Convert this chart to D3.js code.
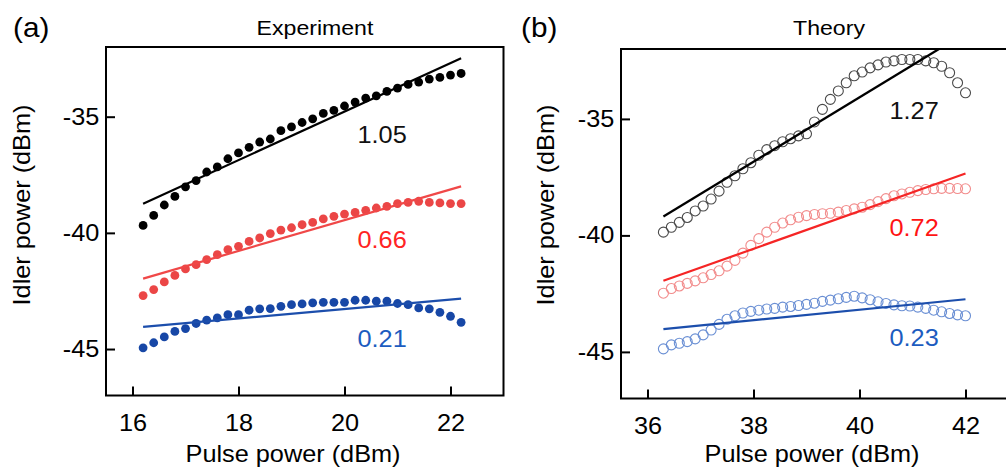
<!DOCTYPE html>
<html>
<head>
<meta charset="utf-8">
<script src="https://cdn.jsdelivr.net/npm/d3@7"></script>
<style>
  body { margin: 0; background: #fff; }
  text { font-family: "Liberation Sans", Arial, sans-serif; }
</style>
</head>
<body>
<svg id="chart" width="1006" height="467"></svg>
<script>
// ---- data ----
const expX = [16.2, 16.4, 16.6, 16.8, 17.0, 17.2, 17.4, 17.6, 17.8, 18.0, 18.2, 18.4, 18.6, 18.8, 19.0, 19.2,
              19.4, 19.6, 19.8, 20.0, 20.2, 20.4, 20.6, 20.8, 21.0, 21.2, 21.4, 21.6, 21.8, 22.0, 22.2];
const expBlack = [-39.68, -39.25, -38.80, -38.43, -38.02, -37.75, -37.38, -37.16, -36.81, -36.56, -36.32, -36.09,
                  -35.96, -35.60, -35.44, -35.25, -35.09, -34.86, -34.73, -34.54, -34.37, -34.20, -34.10, -33.91,
                  -33.77, -33.61, -33.51, -33.38, -33.31, -33.21, -33.14];
const expRed = [-42.70, -42.44, -42.11, -41.83, -41.55, -41.37, -41.15, -40.94, -40.72, -40.58, -40.37, -40.22,
                -40.03, -39.88, -39.78, -39.65, -39.55, -39.40, -39.29, -39.19, -39.12, -39.03, -38.93, -38.86,
                -38.74, -38.69, -38.64, -38.69, -38.71, -38.74, -38.74];
const expBlue = [-44.95, -44.73, -44.48, -44.24, -44.12, -43.90, -43.76, -43.66, -43.52, -43.52, -43.33, -43.27,
                 -43.26, -43.16, -43.09, -43.06, -43.01, -42.99, -42.99, -42.99, -42.90, -42.90, -42.94, -42.94,
                 -43.04, -43.09, -43.23, -43.27, -43.42, -43.59, -43.85];

const thX = [36.3, 36.45, 36.6, 36.75, 36.9, 37.05, 37.2, 37.35, 37.5, 37.65, 37.8, 37.95, 38.1, 38.25, 38.4,
             38.55, 38.7, 38.85, 39.0, 39.15, 39.3, 39.45, 39.6, 39.75, 39.9, 40.05, 40.2, 40.35, 40.5, 40.65,
             40.8, 40.95, 41.1, 41.25, 41.4, 41.55, 41.7, 41.85, 42.0];
const thBlack = [-39.86, -39.65, -39.44, -39.23, -38.95, -38.74, -38.44, -38.10, -37.72, -37.44, -37.14, -36.88,
                 -36.56, -36.32, -36.15, -35.98, -35.85, -35.73, -35.64, -35.13, -34.59, -34.16, -33.80, -33.45,
                 -33.15, -32.99, -32.81, -32.68, -32.56, -32.51, -32.45, -32.45, -32.45, -32.51, -32.59, -32.74,
                 -33.02, -33.45, -33.88];
const thRed = [-42.48, -42.28, -42.17, -42.06, -41.95, -41.82, -41.68, -41.52, -41.32, -41.07, -40.76, -40.43,
               -40.14, -39.86, -39.65, -39.47, -39.33, -39.22, -39.15, -39.10, -39.07, -39.05, -39.00, -38.93,
               -38.86, -38.79, -38.68, -38.55, -38.42, -38.30, -38.22, -38.15, -38.08, -38.03, -38.00, -37.98,
               -37.98, -37.99, -38.00];
const thBlue = [-44.87, -44.70, -44.63, -44.56, -44.44, -44.27, -44.06, -43.82, -43.60, -43.45, -43.33, -43.26,
                -43.21, -43.16, -43.13, -43.08, -43.05, -43.01, -42.96, -42.91, -42.83, -42.78, -42.72, -42.66,
                -42.61, -42.68, -42.76, -42.85, -42.92, -42.98, -43.02, -43.03, -43.08, -43.13, -43.21, -43.28,
                -43.35, -43.41, -43.45];

// linear fits: [[x0, y0], [x1, y1]]
const expFits = [[[16.2, -38.75], [22.2, -32.48]], [[16.2, -41.97], [22.2, -38.00]], [[16.2, -44.05], [22.2, -42.83]]];
const thFits = [[[36.3, -39.19], [41.5, -32.0]], [[36.3, -41.95], [42.0, -37.34]], [[36.3, -44.02], [42.0, -42.74]]];

// slope labels and where they sit (data units)
const expSlopes = ["1.05", "0.66", "0.21"];
const expSlopeAt = [[20.71, -36.12], [20.71, -40.65], [20.71, -44.91]];
const thSlopes = ["1.27", "0.72", "0.23"];
const thSlopeAt = [[41.03, -35.0], [41.03, -40.03], [41.03, -44.75]];

const expXTicks = [16, 18, 20, 22];
const thXTicks = [36, 38, 40, 42];
const yTicks = [-45, -40, -35];
const yDomain = [-47, -32];

const svg = d3.select("#chart");
const stretch = 1.1; // glyphs in the figure are a bit wider than Arial

function label(txt, x, y, size, opts = {}) {
    let tf = `translate(${x},${y})`;
    if (opts.rotate) tf += ` rotate(${opts.rotate})`;
    tf += ` scale(${stretch},1)`;
    return svg.append("text")
        .attr("transform", tf)
        .attr("text-anchor", opts.anchor || "middle")
        .attr("font-size", size)
        .attr("fill", opts.color || "#000")
        .text(txt);
}

function styleAxis(sel) {
    sel.select(".domain").remove();
    sel.selectAll(".tick line").attr("stroke", "#000").attr("stroke-width", 2);
    sel.selectAll(".tick text")
        .attr("font-size", 23)
        .attr("fill", "#000")
        .attr("transform", `scale(${stretch},1)`);
}

function drawPanel(cfg) {
    const x = d3.scaleLinear().domain(cfg.xDomain).range([cfg.left, cfg.right]);
    const y = d3.scaleLinear().domain(yDomain).range([cfg.bottom, cfg.top]);
    const g = svg.append("g");

    g.append("g")
        .attr("transform", `translate(0,${cfg.bottom})`)
        .call(d3.axisBottom(x).tickValues(cfg.xTicks).tickFormat(d => String(d))
            .tickSizeInner(-9).tickSizeOuter(0).tickPadding(19))
        .call(styleAxis);
    g.append("g")
        .attr("transform", `translate(${cfg.left},0)`)
        .call(d3.axisLeft(y).tickValues(yTicks).tickFormat(d => String(d))
            .tickSizeInner(-9).tickSizeOuter(0).tickPadding(6))
        .call(styleAxis);

    g.append("rect")
        .attr("x", cfg.left).attr("y", cfg.top)
        .attr("width", cfg.right - cfg.left).attr("height", cfg.bottom - cfg.top)
        .attr("fill", "none").attr("stroke", "#000").attr("stroke-width", 2);

    cfg.series.forEach((s, i) => {
        const pts = cfg.xs.map((v, j) => [v, s[j]]);
        const dots = g.append("g").selectAll("circle")
            .data(pts)
            .enter().append("circle")
            .attr("cx", d => x(d[0]))
            .attr("cy", d => y(d[1]));
        if (cfg.open) {
            dots.attr("r", 5).attr("fill", "none")
                .attr("stroke", cfg.dotColors[i]).attr("stroke-width", 1.1);
        } else {
            dots.attr("r", 4.4).attr("fill", cfg.dotColors[i]);
        }
    });

    const line = d3.line().x(d => x(d[0])).y(d => y(d[1]));
    g.selectAll(".fit")
        .data(cfg.fits)
        .enter().append("path")
        .attr("class", "fit")
        .attr("d", line)
        .attr("fill", "none")
        .attr("stroke", (d, i) => cfg.lineColors[i])
        .attr("stroke-width", 2.2);

    cfg.slopes.forEach((t, i) => {
        label(t, x(cfg.slopeAt[i][0]), y(cfg.slopeAt[i][1]), 23, { color: cfg.textColors[i] });
    });
}

drawPanel({
    left: 106, right: 503.5, top: 47, bottom: 395.5,
    xDomain: [15.5, 23], xTicks: expXTicks, xs: expX,
    series: [expBlack, expRed, expBlue], fits: expFits, open: false,
    dotColors: ["#000000", "#eb4646", "#1747a6"],
    lineColors: ["#000000", "#f04848", "#1c4eac"],
    slopes: expSlopes, slopeAt: expSlopeAt,
    textColors: ["#111111", "#ff2424", "#1c5cc0"]
});

drawPanel({
    left: 621, right: 1018.5, top: 49, bottom: 398.5,
    xDomain: [35.5, 43], xTicks: thXTicks, xs: thX,
    series: [thBlack, thRed, thBlue], fits: thFits, open: true,
    dotColors: ["#4a4a4a", "#f28c8c", "#6a8fd4"],
    lineColors: ["#000000", "#f52525", "#1c4eac"],
    slopes: thSlopes, slopeAt: thSlopeAt,
    textColors: ["#111111", "#ff1414", "#1c5cc0"]
});

// titles and axis labels
label("(a)", 13, 37, 27, { anchor: "start" });
label("(b)", 521, 37, 27, { anchor: "start" });
label("Experiment", 315, 35, 21);
label("Theory", 829, 35, 21);
label("Pulse power (dBm)", 293, 462, 23);
label("Pulse power (dBm)", 812, 462, 23);
label("Idler power (dBm)", 30, 205, 23, { rotate: -90 });
label("Idler power (dBm)", 554, 205, 23, { rotate: -90 });
</script>
</body>
</html>
